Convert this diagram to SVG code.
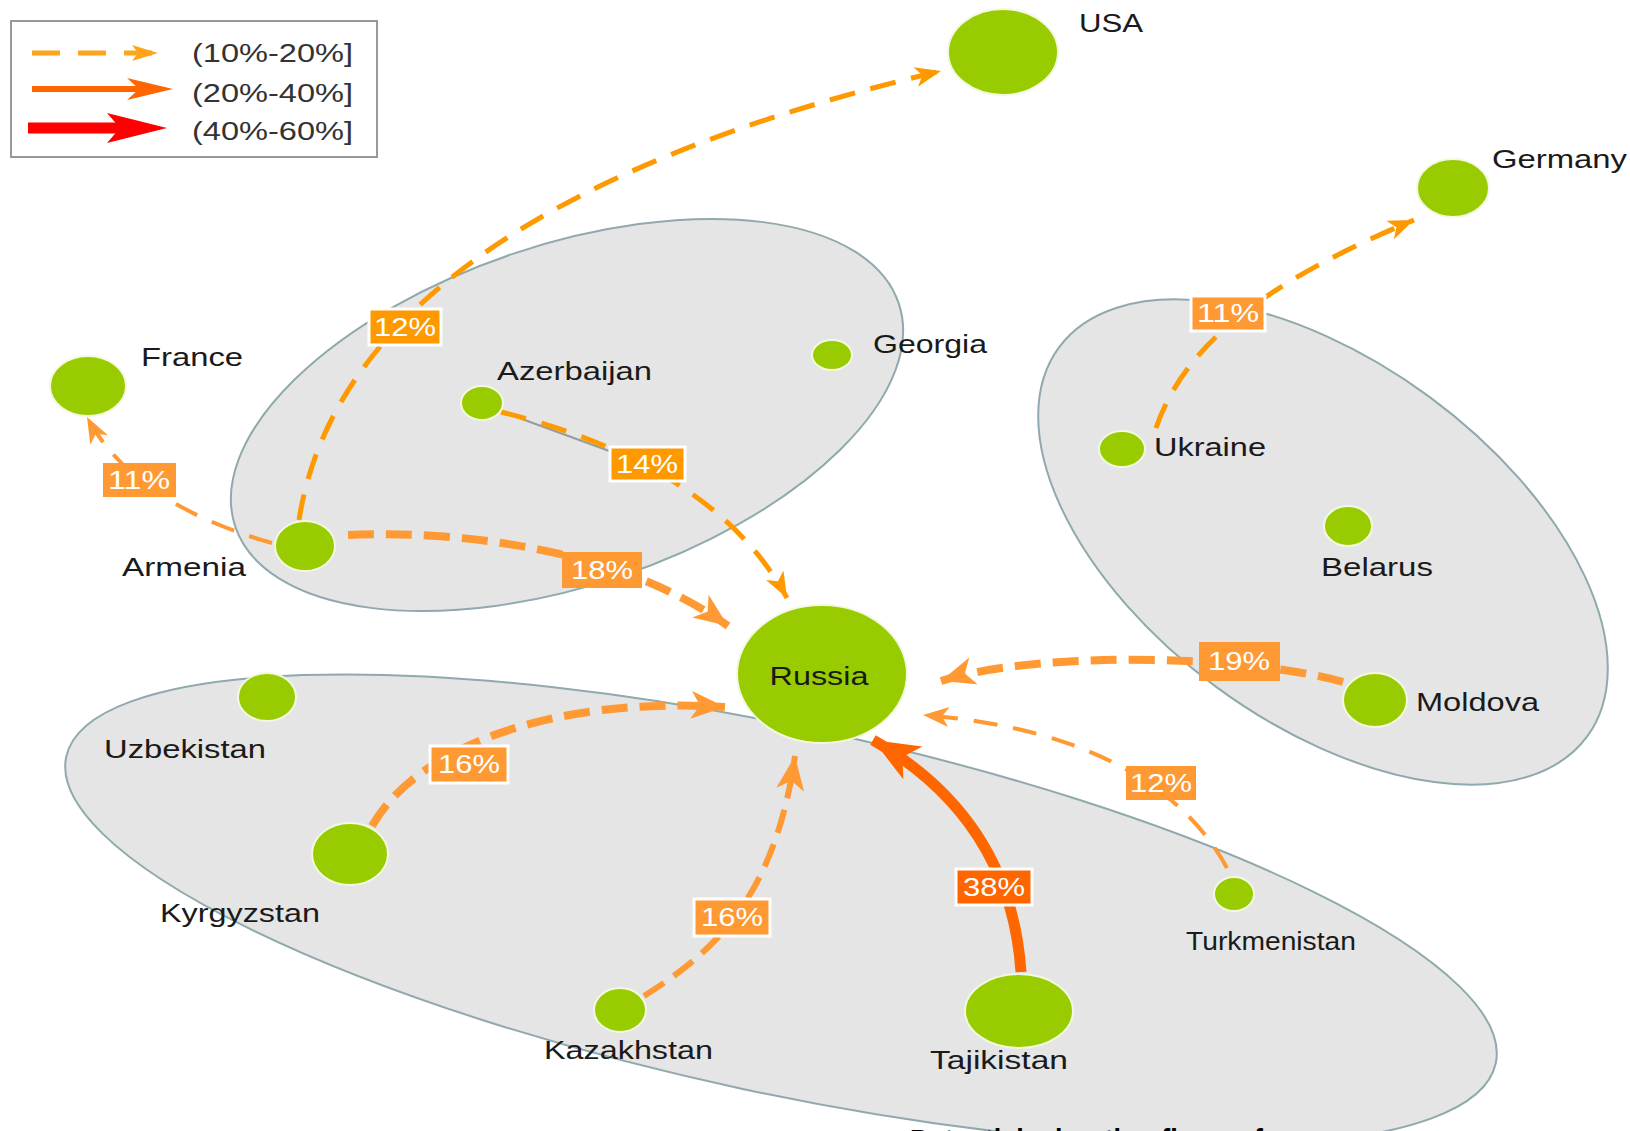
<svg xmlns="http://www.w3.org/2000/svg" width="1630" height="1131" viewBox="0 0 1630 1131">
<style>
.cluster{fill:#e5e5e5;stroke:#8fa9ac;stroke-width:2}
.node{fill:#99cc00;stroke:#f2f9e0;stroke-width:2}
.lbl{font-family:"Liberation Sans",Arial,sans-serif;font-size:26px;fill:#1a1a1a}
.pct{font-family:"Liberation Sans",Arial,sans-serif;font-size:25px;fill:#ffffff;text-anchor:middle}
.leg{font-family:"Liberation Sans",Arial,sans-serif;font-size:26px;fill:#333333}
.e{fill:none;stroke-linecap:butt}
.thinA{stroke:#ff9900;stroke-width:5;stroke-dasharray:26 16}
.thinB{stroke:#ff9933;stroke-width:4;stroke-dasharray:24 16}
.thick{stroke:#ff9933;stroke-width:8;stroke-dasharray:26 12}
.mid{stroke:#ff9933;stroke-width:6;stroke-dasharray:24 12}
.bw{stroke:#ffffff;stroke-width:3}
</style>
<defs>
<marker id="mA" markerUnits="userSpaceOnUse" viewBox="0 0 26 20" refX="26" refY="10" markerWidth="26" markerHeight="20" orient="auto"><path d="M0,0 L26,10 L0,20 L7,10 Z" fill="#ff9900"/></marker>
<marker id="mB" markerUnits="userSpaceOnUse" viewBox="0 0 26 20" refX="26" refY="10" markerWidth="26" markerHeight="20" orient="auto"><path d="M0,0 L26,10 L0,20 L7,10 Z" fill="#ff9933"/></marker>
<marker id="mT" markerUnits="userSpaceOnUse" viewBox="0 0 34 28" refX="34" refY="14" markerWidth="34" markerHeight="28" orient="auto"><path d="M0,0 L34,14 L0,28 L9,14 Z" fill="#ff9933"/></marker>
<marker id="mR" markerUnits="userSpaceOnUse" viewBox="0 0 46 38" refX="46" refY="19" markerWidth="46" markerHeight="38" orient="auto"><path d="M0,0 L46,19 L0,38 L12,19 Z" fill="#ff6600"/></marker>
</defs>

<g id="legend">
<rect x="11" y="21" width="366" height="136" fill="#ffffff" stroke="#999999" stroke-width="2"/>
<path d="M32 53 L152 53" stroke="#ffa31a" stroke-width="5" stroke-dasharray="28 18" fill="none"/>
<polygon points="158,53 132,45 138,53 132,61" fill="#ffa31a"/>
<path d="M32 89 L150 89" stroke="#ff6600" stroke-width="6" fill="none"/>
<polygon points="173,89 127,78 139,89 127,100" fill="#ff6600"/>
<path d="M28 128 L140 128" stroke="#ff0000" stroke-width="11" fill="none"/>
<polygon points="167,128 107,113 120,128 107,143" fill="#ff0000"/>
<text class="leg" x="192" y="62" textLength="161" lengthAdjust="spacingAndGlyphs">(10%-20%]</text>
<text class="leg" x="192" y="102" textLength="161" lengthAdjust="spacingAndGlyphs">(20%-40%]</text>
<text class="leg" x="192" y="140" textLength="161" lengthAdjust="spacingAndGlyphs">(40%-60%]</text>
</g>

<g id="clusters">
<ellipse id="cluster-caucasus" class="cluster" cx="567" cy="415" rx="350" ry="170" transform="rotate(-18.6 567 415)"/>
<ellipse id="cluster-easteurope" class="cluster" cx="1323" cy="542" rx="328" ry="180" transform="rotate(36.4 1323 542)"/>
<ellipse id="cluster-centralasia" class="cluster" cx="781" cy="910" rx="731" ry="183" transform="rotate(12.1 781 910)"/>
</g>

<g id="connectors">
<path d="M503 412 L612 452" stroke="#9a9a9a" stroke-width="2" fill="none"/>
<path class="e thinA" d="M299 520 C322 374, 447 187, 941 71" marker-end="url(#mA)"/>
<path class="e thinB" d="M272 543 C208 525, 125 489, 87 417" marker-end="url(#mB)"/>
<path class="e thick" d="M348 535 C468 530, 624 551, 728 626" marker-end="url(#mT)"/>
<path class="e thinA" d="M501 412 C603 437, 728 489, 787 598" marker-end="url(#mA)"/>
<path class="e thinA" d="M1156 428 C1185 343, 1268 281, 1414 220" marker-end="url(#mA)"/>
<path class="e thick" d="M1343 682 C1247 655, 1040 650, 941 681" marker-end="url(#mT)"/>
<path class="e thinB" d="M1227 868 C1185 790, 1091 728, 923 715" marker-end="url(#mB)"/>
<path class="e" d="M1021 972 C1015 884, 977 800, 873 740" stroke="#ff6600" stroke-width="11" marker-end="url(#mR)"/>
<path class="e thick" d="M372 826 C416 748, 551 696, 725 707" marker-end="url(#mT)"/>
<path class="e mid" d="M644 996 C707 956, 774 904, 795 756" marker-end="url(#mT)"/>
</g>

<g id="node-usa"><ellipse class="node" cx="1003" cy="52" rx="55" ry="43"/><text class="lbl" x="1079" y="32" textLength="64" lengthAdjust="spacingAndGlyphs">USA</text></g>
<g id="node-germany"><ellipse class="node" cx="1453" cy="188" rx="36" ry="29"/><text class="lbl" x="1492" y="168" textLength="135" lengthAdjust="spacingAndGlyphs">Germany</text></g>
<g id="node-france"><ellipse class="node" cx="88" cy="386" rx="38" ry="30"/><text class="lbl" x="141" y="366" textLength="102" lengthAdjust="spacingAndGlyphs">France</text></g>
<g id="node-azerbaijan"><ellipse class="node" cx="482" cy="403" rx="21" ry="17"/><text class="lbl" x="497" y="380" textLength="155" lengthAdjust="spacingAndGlyphs">Azerbaijan</text></g>
<g id="node-georgia"><ellipse class="node" cx="832" cy="355" rx="20" ry="15"/><text class="lbl" x="873" y="353" textLength="114" lengthAdjust="spacingAndGlyphs">Georgia</text></g>
<g id="node-armenia"><ellipse class="node" cx="305" cy="546" rx="30" ry="25"/><text class="lbl" x="122" y="576" textLength="124" lengthAdjust="spacingAndGlyphs">Armenia</text></g>
<g id="node-ukraine"><ellipse class="node" cx="1122" cy="449" rx="23" ry="18"/><text class="lbl" x="1154" y="456" textLength="112" lengthAdjust="spacingAndGlyphs">Ukraine</text></g>
<g id="node-belarus"><ellipse class="node" cx="1348" cy="526" rx="24" ry="20"/><text class="lbl" x="1321" y="576" textLength="112" lengthAdjust="spacingAndGlyphs">Belarus</text></g>
<g id="node-moldova"><ellipse class="node" cx="1375" cy="700" rx="32" ry="27"/><text class="lbl" x="1416" y="711" textLength="123" lengthAdjust="spacingAndGlyphs">Moldova</text></g>
<g id="node-russia"><ellipse class="node" cx="822" cy="674" rx="85" ry="69"/><text class="lbl" x="819" y="685" text-anchor="middle" textLength="99" lengthAdjust="spacingAndGlyphs">Russia</text></g>
<g id="node-uzbekistan"><ellipse class="node" cx="267" cy="697" rx="29" ry="24"/><text class="lbl" x="104" y="758" textLength="162" lengthAdjust="spacingAndGlyphs">Uzbekistan</text></g>
<g id="node-kyrgyzstan"><ellipse class="node" cx="350" cy="854" rx="38" ry="31"/><text class="lbl" x="160" y="922" textLength="160" lengthAdjust="spacingAndGlyphs">Kyrgyzstan</text></g>
<g id="node-kazakhstan"><ellipse class="node" cx="620" cy="1010" rx="26" ry="22"/><text class="lbl" x="544" y="1059" textLength="169" lengthAdjust="spacingAndGlyphs">Kazakhstan</text></g>
<g id="node-tajikistan"><ellipse class="node" cx="1019" cy="1011" rx="54" ry="37"/><text class="lbl" x="930" y="1069" textLength="138" lengthAdjust="spacingAndGlyphs">Tajikistan</text></g>
<g id="node-turkmenistan"><ellipse class="node" cx="1234" cy="894" rx="20" ry="17"/><text class="lbl" x="1186" y="950" textLength="170" lengthAdjust="spacingAndGlyphs">Turkmenistan</text></g>

<g id="edge-labels">
<g><rect class="bw" x="369" y="309" width="72" height="36" fill="#ff9900"/><text class="pct" x="405" y="336" textLength="62" lengthAdjust="spacingAndGlyphs">12%</text></g>
<g><rect x="103" y="463" width="73" height="34" fill="#ff9933"/><text class="pct" x="139" y="489" textLength="62" lengthAdjust="spacingAndGlyphs">11%</text></g>
<g><rect class="bw" x="610" y="447" width="75" height="34" fill="#ff9900"/><text class="pct" x="647" y="473" textLength="62" lengthAdjust="spacingAndGlyphs">14%</text></g>
<g><rect x="562" y="552" width="80" height="36" fill="#ff9933"/><text class="pct" x="602" y="579" textLength="62" lengthAdjust="spacingAndGlyphs">18%</text></g>
<g><rect class="bw" x="1191" y="296" width="74" height="35" fill="#ff9933"/><text class="pct" x="1228" y="322" textLength="62" lengthAdjust="spacingAndGlyphs">11%</text></g>
<g><rect x="1199" y="642" width="81" height="39" fill="#ff9933"/><text class="pct" x="1239" y="670" textLength="62" lengthAdjust="spacingAndGlyphs">19%</text></g>
<g><rect x="1126" y="766" width="70" height="34" fill="#ff9933"/><text class="pct" x="1161" y="792" textLength="62" lengthAdjust="spacingAndGlyphs">12%</text></g>
<g><rect class="bw" x="956" y="869" width="76" height="36" fill="#ff6600"/><text class="pct" x="994" y="896" textLength="62" lengthAdjust="spacingAndGlyphs">38%</text></g>
<g><rect class="bw" x="430" y="746" width="78" height="37" fill="#ff9933"/><text class="pct" x="469" y="773" textLength="62" lengthAdjust="spacingAndGlyphs">16%</text></g>
<g><rect class="bw" x="694" y="899" width="76" height="37" fill="#ff9933"/><text class="pct" x="732" y="926" textLength="62" lengthAdjust="spacingAndGlyphs">16%</text></g>
</g>

<text x="910" y="1150" font-family="'Liberation Sans',Arial,sans-serif" font-size="30" font-weight="bold" fill="#000000" textLength="353" lengthAdjust="spacingAndGlyphs">Potential migration flows of</text>
</svg>
